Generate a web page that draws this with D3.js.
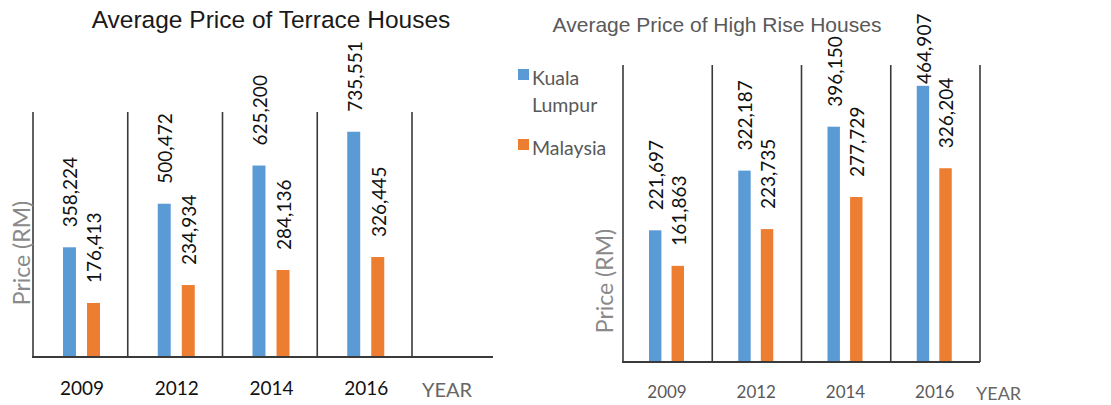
<!DOCTYPE html>
<html>
<head>
<meta charset="utf-8">
<script src="https://cdn.jsdelivr.net/npm/d3@7"></script>
<style>
  body { margin: 0; background: #fff; }
  svg { display: block; }
</style>
</head>
<body>
<script>
let w = 1111;
let h = 405;

// data
let years = ["2009", "2012", "2014", "2016"];
let series = ["Kuala Lumpur", "Malaysia"];
let terraceKL = [358224, 500472, 625200, 735551];
let terraceMY = [176413, 234934, 284136, 326445];
let highRiseKL = [221697, 322187, 396150, 464907];
let highRiseMY = [161863, 223735, 277729, 326204];

let colors = d3.scaleOrdinal().domain(series).range(["#5b9bd5", "#ed7d31"]);
let fmt = d3.format(",");

let svg = d3.select("body")
  .append("svg")
  .attr("width", w)
  .attr("height", h);

function drawChart(opt) {
  let g = svg.append("g");
  let data = years.map((y, i) => ({ year: y, vals: [opt.kl[i], opt.my[i]] }));

  let xScale = d3.scaleBand()
    .domain(years)
    .range([opt.x0, opt.x1]);

  let xInner = d3.scaleBand()
    .domain(series)
    .range(opt.inner)
    .paddingInner(opt.gap);

  let yScale = d3.scaleLinear()
    .domain([0, opt.yMax])
    .range([opt.base, opt.top]);

  // vertical separators (y axis + band borders)
  let seps = years.map(d => xScale(d)).concat([opt.x1]);
  g.selectAll("line.sep")
    .data(seps)
    .enter()
    .append("line")
    .attr("class", "sep")
    .attr("x1", d => d).attr("x2", d => d)
    .attr("y1", opt.top).attr("y2", opt.base)
    .attr("stroke", "#3a3a3a")
    .attr("stroke-width", 1.6);

  // bars
  let grp = g.selectAll("g.year")
    .data(data)
    .enter()
    .append("g")
    .attr("class", "year")
    .attr("transform", d => "translate(" + xScale(d.year) + ",0)");

  grp.selectAll("rect")
    .data(d => d.vals.map((v, i) => ({ s: series[i], v: v })))
    .enter()
    .append("rect")
    .attr("x", d => xInner(d.s))
    .attr("y", d => yScale(d.v))
    .attr("width", xInner.bandwidth())
    .attr("height", d => opt.base - yScale(d.v))
    .attr("fill", d => colors(d.s));

  grp.selectAll("text")
    .data(d => d.vals.map((v, i) => ({ s: series[i], v: v })))
    .enter()
    .append("text")
    .attr("transform", d => {
      let cx = xInner(d.s) + xInner.bandwidth() / 2 + 1;
      let yy = Math.max(yScale(d.v) - 20, 84);
      return "translate(" + cx + "," + yy + ") rotate(-90)";
    })
    .attr("dy", "0.36em")
    .attr("font-family", "Lato, 'Open Sans', sans-serif")
    .attr("font-size", 19)
    .attr("fill", "#111")
    .text(d => fmt(d.v));

  // x axis line
  g.append("line")
    .attr("x1", opt.x0 - 1).attr("x2", opt.axisEnd)
    .attr("y1", opt.base).attr("y2", opt.base)
    .attr("stroke", "#3a3a3a")
    .attr("stroke-width", 2);

  // year labels
  g.selectAll("text.yr")
    .data(years)
    .enter()
    .append("text")
    .attr("class", "yr")
    .attr("x", d => xScale(d) + opt.labOff)
    .attr("y", opt.yearY)
    .attr("text-anchor", "middle")
    .attr("font-family", "Lato, sans-serif")
    .attr("font-size", opt.yearSize)
    .attr("fill", opt.yearColor)
    .text(d => d);

  g.append("text")
    .attr("x", opt.yearTitleX)
    .attr("y", opt.yearY + 2)
    .attr("font-family", "Lato, sans-serif")
    .attr("font-size", opt.yearTitleSize)
    .attr("fill", "#666")
    .text("YEAR");

  g.append("text")
    .attr("transform", "translate(" + opt.yLabX + "," + opt.yLabY + ") rotate(-90)")
    .attr("text-anchor", "middle")
    .attr("dy", "0.35em")
    .attr("font-family", "Lato, sans-serif")
    .attr("font-size", 23)
    .attr("fill", "#8a8a8a")
    .text("Price (RM)");

  g.append("text")
    .attr("x", opt.titleX)
    .attr("y", opt.titleY)
    .attr("text-anchor", "middle")
    .attr("font-family", "'Liberation Sans', Arial, sans-serif")
    .attr("font-size", opt.titleSize)
    .attr("fill", opt.titleColor)
    .text(opt.title);
}

drawChart({
  title: "Average Price of Terrace Houses",
  titleX: 271, titleY: 28, titleSize: 24.5, titleColor: "#1a1a1a",
  kl: terraceKL, my: terraceMY,
  x0: 33, x1: 412, axisEnd: 493, top: 112, base: 357, yMax: 800000,
  inner: [30, 67], gap: 0.46,
  labOff: 49, yearY: 395, yearSize: 19, yearColor: "#111",
  yearTitleX: 422, yearTitleSize: 20, yLabX: 22, yLabY: 253
});

drawChart({
  title: "Average Price of High Rise Houses",
  titleX: 717, titleY: 32, titleSize: 21, titleColor: "#595959",
  kl: highRiseKL, my: highRiseMY,
  x0: 623, x1: 980, axisEnd: 980, top: 65, base: 362, yMax: 500000,
  inner: [26, 61], gap: 0.45,
  labOff: 44, yearY: 398, yearSize: 17, yearColor: "#595959",
  yearTitleX: 976, yearTitleSize: 18, yLabX: 605, yLabY: 281
});

// legend (right chart)
let legend = svg.append("g")
  .attr("transform", "translate(518,69)");

let legendRows = [
  { s: series[0], lines: ["Kuala", "Lumpur"], y: 0 },
  { s: series[1], lines: ["Malaysia"], y: 70 }
];

let item = legend.selectAll("g")
  .data(legendRows)
  .enter()
  .append("g")
  .attr("transform", d => "translate(0," + d.y + ")");

item.append("rect")
  .attr("width", 11)
  .attr("height", 11)
  .attr("fill", d => colors(d.s));

item.append("text")
  .attr("x", 14)
  .attr("y", 16)
  .attr("font-family", "Lato, sans-serif")
  .attr("font-size", 19.5)
  .attr("fill", "#595959")
  .selectAll("tspan")
  .data(d => d.lines)
  .enter()
  .append("tspan")
  .attr("x", 14)
  .attr("dy", (d, i) => i === 0 ? 0 : 27)
  .text(d => d);
</script>
</body>
</html>
